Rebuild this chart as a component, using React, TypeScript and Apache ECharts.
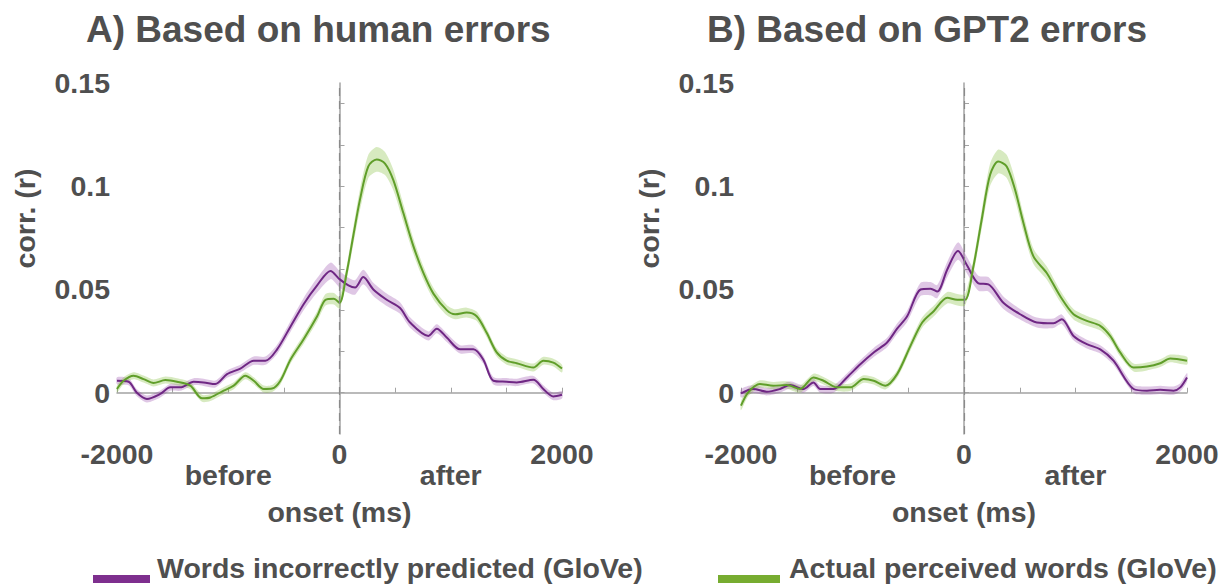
import React, { useEffect, useRef } from "react";
import * as echarts from "echarts";

const PURPLE_NAME = "Words incorrectly predicted (GloVe)";
const GREEN_NAME = "Actual perceived words (GloVe)";

const panelTitles = ["A) Based on human errors", "B) Based on GPT2 errors"];

// [onset time (ms), corr (r), sem]
const humanPredicted = [
  [-2000, 0.0058, 0.0017], [-1896, 0.0053, 0.0017], [-1821, 0.0, 0.0017], [-1731, -0.003, 0.0017],
  [-1611, -0.0006, 0.0017], [-1521, 0.0026, 0.0017], [-1431, 0.0026, 0.0017], [-1311, 0.0053, 0.0017],
  [-1221, 0.005, 0.0017], [-1116, 0.0042, 0.0017], [-1011, 0.009, 0.0018], [-891, 0.0117, 0.0019],
  [-771, 0.0155, 0.002], [-666, 0.0155, 0.002], [-561, 0.021, 0.0022], [-441, 0.032, 0.0026],
  [-321, 0.043, 0.003], [-201, 0.052, 0.0035], [-81, 0.059, 0.004], [0, 0.055, 0.004],
  [80, 0.052, 0.0037], [140, 0.051, 0.0035], [214, 0.056, 0.0035], [304, 0.05, 0.0032],
  [424, 0.045, 0.003], [544, 0.041, 0.0028], [634, 0.034, 0.0025], [799, 0.0275, 0.0022],
  [874, 0.031, 0.0022], [964, 0.0267, 0.0021], [1084, 0.021, 0.002], [1204, 0.021, 0.002],
  [1293, 0.016, 0.0019], [1383, 0.0058, 0.0018], [1503, 0.0053, 0.0018], [1593, 0.005, 0.0018],
  [1743, 0.0063, 0.0018], [1832, 0.0018, 0.0018], [1922, -0.0018, 0.0018], [2000, -0.001, 0.0018],
];

const humanPerceived = [
  [-2000, 0.0018, 0.0017], [-1941, 0.0058, 0.0017], [-1851, 0.0082, 0.0017], [-1761, 0.0066, 0.0017],
  [-1671, 0.0047, 0.0017], [-1566, 0.0061, 0.0017], [-1461, 0.0053, 0.0017], [-1341, 0.0034, 0.0017],
  [-1236, -0.0027, 0.0017], [-1161, -0.0023, 0.0017], [-1041, 0.001, 0.0017], [-951, 0.0034, 0.0017],
  [-846, 0.0082, 0.0017], [-771, 0.0058, 0.0017], [-681, 0.0018, 0.0017], [-606, 0.002, 0.0017],
  [-531, 0.0058, 0.0018], [-441, 0.016, 0.002], [-321, 0.026, 0.0022], [-201, 0.037, 0.0025],
  [-126, 0.045, 0.0028], [-51, 0.0455, 0.0028], [0, 0.0436, 0.0028], [64, 0.058, 0.0034],
  [124, 0.076, 0.0042], [184, 0.0935, 0.005], [259, 0.1096, 0.0056], [334, 0.113, 0.006],
  [409, 0.111, 0.0056], [484, 0.103, 0.005], [574, 0.087, 0.0043], [664, 0.071, 0.0037],
  [754, 0.058, 0.0032], [844, 0.048, 0.0028], [964, 0.04, 0.0025], [1039, 0.038, 0.0024],
  [1143, 0.0388, 0.0024], [1233, 0.037, 0.0023], [1323, 0.029, 0.0021], [1413, 0.0195, 0.002],
  [1503, 0.0155, 0.0019], [1593, 0.0143, 0.0019], [1743, 0.0122, 0.0019], [1832, 0.0155, 0.0019],
  [1922, 0.0146, 0.0019], [2000, 0.0117, 0.0019],
];

const gptPredicted = [
  [-2000, -0.0003, 0.002], [-1890, 0.0018, 0.0019], [-1770, 0.0005, 0.0018], [-1650, 0.0018, 0.0018],
  [-1560, 0.0037, 0.0018], [-1440, 0.0018, 0.0018], [-1350, 0.005, 0.0018], [-1290, 0.0018, 0.0018],
  [-1170, 0.0018, 0.0018], [-1050, 0.0074, 0.0019], [-930, 0.0138, 0.002], [-810, 0.0195, 0.0022],
  [-690, 0.0243, 0.0023], [-600, 0.031, 0.0025], [-510, 0.037, 0.0027], [-390, 0.05, 0.0032],
  [-300, 0.0504, 0.0032], [-240, 0.049, 0.0032], [-150, 0.0597, 0.0037], [-54, 0.0686, 0.0042],
  [24, 0.062, 0.004], [129, 0.053, 0.0036], [219, 0.0525, 0.0035], [353, 0.0436, 0.003],
  [503, 0.038, 0.0026], [653, 0.034, 0.0024], [802, 0.0336, 0.0023], [877, 0.0356, 0.0023],
  [982, 0.0275, 0.0021], [1102, 0.0235, 0.0021], [1222, 0.021, 0.002], [1341, 0.0155, 0.002],
  [1521, 0.0018, 0.002], [1641, 0.001, 0.002], [1760, 0.0014, 0.002], [1880, 0.001, 0.002],
  [1940, 0.0026, 0.002], [2000, 0.0074, 0.0021],
];

const gptPerceived = [
  [-2000, -0.0063, 0.0022], [-1935, 0.0002, 0.0019], [-1830, 0.0042, 0.0018], [-1710, 0.0034, 0.0018],
  [-1590, 0.0037, 0.0018], [-1470, 0.0018, 0.0018], [-1350, 0.0074, 0.0018], [-1260, 0.0058, 0.0018],
  [-1140, 0.0026, 0.0018], [-1020, 0.0026, 0.0018], [-900, 0.0066, 0.0018], [-810, 0.0058, 0.0018],
  [-705, 0.0034, 0.0018], [-600, 0.009, 0.0019], [-480, 0.0227, 0.0022], [-375, 0.034, 0.0025],
  [-270, 0.0396, 0.0026], [-150, 0.046, 0.0028], [-60, 0.045, 0.0028], [9, 0.045, 0.0028],
  [84, 0.061, 0.0035], [159, 0.0839, 0.0045], [234, 0.1056, 0.0054], [308, 0.112, 0.0058],
  [383, 0.1096, 0.0056], [458, 0.0983, 0.005], [533, 0.0822, 0.0043], [623, 0.066, 0.0037],
  [742, 0.058, 0.0032], [862, 0.0468, 0.0028], [982, 0.038, 0.0025], [1102, 0.0348, 0.0024],
  [1222, 0.0324, 0.0023], [1311, 0.0275, 0.0021], [1401, 0.0195, 0.002], [1521, 0.0122, 0.0019],
  [1641, 0.0127, 0.0019], [1760, 0.0143, 0.0019], [1850, 0.0166, 0.0019], [2000, 0.0155, 0.0019],
];

const xLabelValues = [-2000, 0, 2000];
const sideLabelValues = [-1000, 1000];
const sideLabels = ["before", "after"];
const yLabelValues = [0, 0.05, 0.1, 0.15];
const yTickValues = [0, 0.02, 0.04, 0.06, 0.08, 0.1, 0.12, 0.14];

const FONT = "'Liberation Sans', Arial, Helvetica, sans-serif";
const TEXT = "#4f4f4f";
const AXIS = "#a3a3a3";
const PURPLE_LINE = "#6f2784";
const PURPLE_KEY = "#7e2f8e";
const PURPLE_BAND = "rgba(150, 70, 170, 0.30)";
const GREEN_LINE = "#609e2a";
const GREEN_KEY = "#77ac30";
const GREEN_BAND = "rgba(130, 190, 60, 0.32)";
const LABEL_SIZE = 28.5;

const txt = (size: number) => ({ color: TEXT, fontSize: size, fontWeight: "bold" as const, fontFamily: FONT });

function bandSeries(data: number[][], gi: number, color: string) {
  return {
    type: "custom",
    name: "band",
    xAxisIndex: gi * 2,
    yAxisIndex: gi,
    coordinateSystem: "cartesian2d",
    data: [[0, 0]],
    silent: true,
    z: 1,
    renderItem: (_params: any, api: any) => {
      const upper = data.map((d) => api.coord([d[0], d[1] + d[2]]));
      const lower = data.map((d) => api.coord([d[0], d[1] - d[2]])).reverse();
      return {
        type: "polygon",
        shape: { points: upper.concat(lower), smooth: 0.25 },
        style: { fill: color, stroke: "none" },
      };
    },
  };
}

function lineSeries(name: string, data: number[][], gi: number, color: string, key: string, mark: boolean) {
  const s: any = {
    type: "line",
    name,
    xAxisIndex: gi * 2,
    yAxisIndex: gi,
    data: data.map((d) => [d[0], d[1]]),
    showSymbol: false,
    symbol: "none",
    smooth: 0.3,
    z: 3,
    itemStyle: { color: key },
    lineStyle: { color, width: 2 },
  };
  if (mark) {
    s.markLine = {
      silent: true,
      symbol: ["none", "none"],
      label: { show: false },
      lineStyle: { color: "#8a8a8a", type: [8, 5], width: 1.2 },
      data: [{ xAxis: 0 }],
    };
  }
  return s;
}

export default function App() {
  const ref = useRef<HTMLDivElement>(null);

  useEffect(() => {
    if (!ref.current) return;
    const chart = echarts.init(ref.current, undefined, { renderer: "svg" });

    const grids = [
      { left: 117, width: 445, top: 83, height: 351 },
      { left: 741, width: 446, top: 83, height: 351 },
    ];

    const xAxes: any[] = [];
    const yAxes: any[] = [];
    grids.forEach((_g, gi) => {
      xAxes.push({
        type: "value",
        gridIndex: gi,
        min: -2000,
        max: 2000,
        interval: 500,
        position: "bottom",
        axisLine: { show: true, lineStyle: { color: AXIS, width: 1.5 } },
        axisTick: { show: true, inside: true, length: 5, lineStyle: { color: AXIS, width: 1 } },
        axisLabel: { customValues: xLabelValues, formatter: (v: number) => String(v), margin: 5, ...txt(LABEL_SIZE) },
        splitLine: { show: false },
        name: "onset (ms)",
        nameLocation: "middle",
        nameGap: 63,
        nameTextStyle: txt(LABEL_SIZE),
      });
      xAxes.push({
        type: "value",
        gridIndex: gi,
        min: -2000,
        max: 2000,
        position: "bottom",
        axisLine: { show: false },
        axisTick: { show: false },
        splitLine: { show: false },
        axisLabel: {
          customValues: sideLabelValues,
          formatter: (v: number) => sideLabels[sideLabelValues.indexOf(v)] ?? "",
          margin: 26,
          ...txt(LABEL_SIZE),
        },
      });
      yAxes.push({
        type: "value",
        gridIndex: gi,
        min: -0.02,
        max: 0.15,
        axisLine: { show: true, lineStyle: { color: AXIS, width: 1.5 } },
        axisTick: { show: true, inside: true, length: 5, customValues: yTickValues, lineStyle: { color: AXIS, width: 1 } },
        axisLabel: { customValues: yLabelValues, formatter: (v: number) => String(v), margin: 7, ...txt(LABEL_SIZE) },
        splitLine: { show: false },
        name: "corr. (r)",
        nameLocation: "middle",
        nameRotate: 90,
        nameGap: 78,
        nameTextStyle: { ...txt(LABEL_SIZE), padding: [0, 0, 0, 80] },
      });
    });

    const legendFont = `bold ${LABEL_SIZE}px ${FONT}`;

    chart.setOption({
      animation: false,
      backgroundColor: "#ffffff",
      title: [
        { text: panelTitles[0], left: 81, top: 6, textStyle: txt(37) },
        { text: panelTitles[1], left: 702, top: 6, textStyle: txt(37) },
      ],
      graphic: [
        { type: "rect", left: 93, top: 575, shape: { width: 57, height: 8 }, style: { fill: PURPLE_KEY } },
        { type: "text", left: 157, top: 553, style: { text: PURPLE_NAME, font: legendFont, fill: TEXT } },
        { type: "rect", left: 718, top: 575, shape: { width: 62, height: 8 }, style: { fill: GREEN_KEY } },
        { type: "text", left: 789, top: 553, style: { text: GREEN_NAME, font: legendFont, fill: TEXT } },
      ],
      grid: grids,
      xAxis: xAxes,
      yAxis: yAxes,
      series: [
        bandSeries(humanPredicted, 0, PURPLE_BAND),
        bandSeries(humanPerceived, 0, GREEN_BAND),
        lineSeries(PURPLE_NAME, humanPredicted, 0, PURPLE_LINE, PURPLE_KEY, true),
        lineSeries(GREEN_NAME, humanPerceived, 0, GREEN_LINE, GREEN_KEY, false),
        bandSeries(gptPredicted, 1, PURPLE_BAND),
        bandSeries(gptPerceived, 1, GREEN_BAND),
        lineSeries(PURPLE_NAME, gptPredicted, 1, PURPLE_LINE, PURPLE_KEY, true),
        lineSeries(GREEN_NAME, gptPerceived, 1, GREEN_LINE, GREEN_KEY, false),
      ],
    });

    return () => chart.dispose();
  }, []);

  return <div ref={ref} style={{ position: "fixed", left: 0, top: 0, width: 1222, height: 584 }} />;
}
